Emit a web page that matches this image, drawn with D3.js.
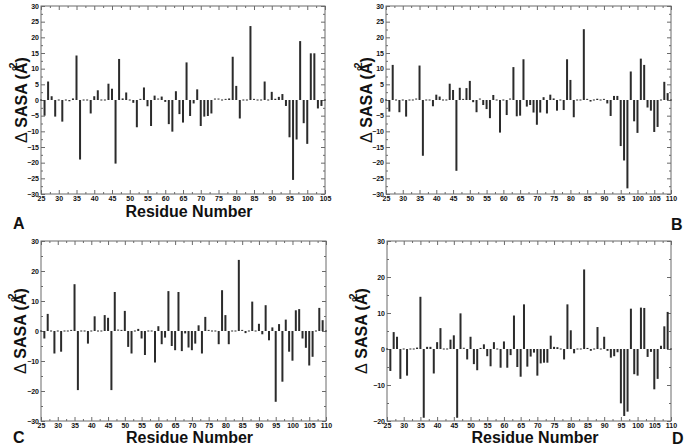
<!DOCTYPE html>
<html><head><meta charset="utf-8">
<script src="https://cdn.jsdelivr.net/npm/d3@7"></script>
<style>body{margin:0;background:#fff} svg{display:block}</style>
</head><body>
<script>
// Residue numbers start at 25; one value per residue.
const residueStart = 25;
const valuesA = [0,-5,5.9,1.2,-5.3,0,-6.9,0,-0.4,0.5,14.2,-19,0,0,-4.3,1.2,3.1,0,0,5.2,3.6,-20.3,13.1,0.5,2.4,-0.3,-0.9,-8.7,0.2,4.0,-2,-8.3,1.4,0.3,1.1,-0.6,-7.7,-10.1,2.8,-4.5,-7.2,12,-5.1,-1.1,3.4,-8.3,-5.3,-5.1,-4.3,0.3,0.3,-0.2,0.2,0.5,13.8,4.5,-5.9,0,0,23.6,0.2,-0.3,0,5.9,0,2.6,0.4,1.0,1.9,-1.9,-11.9,-25.5,-12.6,18.8,-7.4,-14,14.9,14.9,-2.7,-1.9,0];
const valuesB = [0,-3.7,11.2,0,-3.9,0,-5.3,0,0,0.3,11,-17.8,0,0,-2,1.7,1.1,0,0,5.2,3.2,-22.6,3.9,0.2,3.8,6.1,-0.7,-3.9,0.3,-1.6,-2.9,-5.8,1.6,0,-10.4,0,-4.8,0.3,10.5,-5.2,-5,13,-2.1,-1.6,-4,-7.9,-4,0.9,-4.3,1.7,0.5,-3.4,0,-3.2,13,6.4,-5.5,0,0,22.6,0.2,-0.5,0,0.4,0,0.2,-1.1,-5.1,1.3,1.3,-14.7,-19.3,-28.2,9.1,-6.8,-10.5,13.2,11.2,-2.4,-3.4,-10.2,-8.6,0,5.8,2.2,0];
const valuesC = [0,-2.5,5.7,0,-7.5,0,-6.9,0,-0.3,0.2,15.6,-19.7,0,0,-4.2,0,4.9,0,0,5.3,4.4,-19.7,13,0.3,0.2,6.7,-5.3,-7.5,0,0.7,-2.5,-8,0,0,-10.5,1.6,-4.4,-2.2,13.3,-5,-6.4,13,-6.7,-0.8,-5.5,-6.4,-4.2,1.9,-7.5,4.7,0.2,0,0,-4.4,13.6,5.3,-4.4,0,0,23.7,0.2,-0.7,0,9.8,0,2.4,-1.1,8.6,-3.1,1.2,-23.6,2.3,-16.9,3.8,-6.9,-9.9,6.9,7.3,-2.5,-5.6,-11.5,-8.6,0,7.7,3.6,0];
const valuesD = [0,-6.1,4.7,3.4,-8.3,0,-7.4,0,0,0.4,14.5,-19.1,0.6,0.6,-6.8,1.9,5.8,0,0,2.6,3.8,-19.1,9.9,0.2,-2.9,3.4,-4.2,-5.9,0.3,1.3,-2,-4.8,1.9,0,-5.2,2.1,-5.2,-1.7,9.3,-5,-7.7,12.4,-4.9,-2.1,-1,-7.4,-4,-3.8,-3.8,3.7,0.6,0.5,0,-2.9,12.4,5.2,-1.2,0,0,22.1,0.3,-0.5,0,6.1,0,3.4,-0.5,-2.4,-2,-0.9,-15.1,-18.6,-17.4,11.2,-7,-7.4,11.5,11.4,-2.2,-0.8,-11.2,-8.3,0.9,6.3,10.3,0];

const xTicksA = [25,30,35,40,45,50,55,60,65,70,75,80,85,90,95,100,105];
const xTicksBCD = [25,30,35,40,45,50,55,60,65,70,75,80,85,90,95,100,105,110];
const yTicksAB = [-30,-25,-20,-15,-10,-5,0,5,10,15,20,25,30];
const yTicksC = [-30,-20,-10,0,10,20,30];
const yTicksD = [-20,-10,0,10,20,30];
const panelLetters = ["A","B","C","D"];
const xTitle = "Residue Number";

const W = 687, H = 447;
const svg = d3.select("body").append("svg").attr("width", W).attr("height", H)
  .style("font-family", "'Liberation Sans', Arial, sans-serif");

const panels = [
  {values: valuesA, xMax: 105, yDom: [-30,30], xTicks: xTicksA, yTicks: yTicksAB, yMinor: 2.5,
   box: {l:41, r:325, t:6, b:194}, title: 217, letter: [13,229], ylabX: 27},
  {values: valuesB, xMax: 110, yDom: [-30,30], xTicks: xTicksBCD, yTicks: yTicksAB, yMinor: 2.5,
   box: {l:386, r:671, t:6, b:194}, title: null, letter: [671,230], ylabX: 372},
  {values: valuesC, xMax: 110, yDom: [-30,30], xTicks: xTicksBCD, yTicks: yTicksC, yMinor: 5,
   box: {l:41, r:326, t:241, b:421}, title: 443, letter: [13,443], ylabX: 26},
  {values: valuesD, xMax: 110, yDom: [-20,30], xTicks: xTicksBCD, yTicks: yTicksD, yMinor: 5,
   box: {l:387, r:671, t:241, b:421}, title: 443, letter: [672,444], ylabX: 367}
];

const frameColor = "#6a6a6a", barColor = "#2b2b2b";

panels.forEach((p, i) => {
  const b = p.box;
  const x = d3.scaleLinear().domain([residueStart, p.xMax]).range([b.l, b.r]);
  const y = d3.scaleLinear().domain(p.yDom).range([b.b, b.t]);
  const g = svg.append("g");

  const xMinor = d3.range(residueStart, p.xMax + 0.01, 2.5).filter(v => v % 5 !== 0);
  const yMinorV = d3.range(p.yDom[0], p.yDom[1] + 0.01, p.yMinor).filter(v => !p.yTicks.includes(v));

  function addAxis(axisFn, scale, tr, vals, size, labels) {
    const a = axisFn(scale).tickValues(vals).tickSizeInner(-size).tickSizeOuter(0)
      .tickPadding(2).tickFormat(labels ? d3.format("d") : () => "");
    const ag = g.append("g").attr("transform", tr).call(a);
    ag.select(".domain").remove();
    ag.selectAll("line").attr("stroke", frameColor).attr("stroke-width", 1);
    ag.selectAll("text").attr("font-size", 7).attr("font-weight", "bold").attr("fill", "#111");
    return ag;
  }
  // bottom
  const bx = addAxis(d3.axisBottom, x, `translate(0,${b.b})`, p.xTicks, 4, true);
  bx.selectAll("text").attr("dy", "0.72em").attr("y", 2);
  addAxis(d3.axisBottom, x, `translate(0,${b.b})`, xMinor, 2, false);
  // top
  addAxis(d3.axisTop, x, `translate(0,${b.t})`, p.xTicks, 4, false);
  addAxis(d3.axisTop, x, `translate(0,${b.t})`, xMinor, 2, false);
  // left
  addAxis(d3.axisLeft, y, `translate(${b.l},0)`, p.yTicks, 4, true);
  addAxis(d3.axisLeft, y, `translate(${b.l},0)`, yMinorV, 2, false);
  // right
  addAxis(d3.axisRight, y, `translate(${b.r},0)`, p.yTicks, 4, false);
  addAxis(d3.axisRight, y, `translate(${b.r},0)`, yMinorV, 2, false);

  // frame
  g.append("rect").attr("x", b.l).attr("y", b.t).attr("width", b.r - b.l).attr("height", b.b - b.t)
    .attr("fill", "none").attr("stroke", frameColor).attr("stroke-width", 1);

  // bars
  const data = p.values.map((v, k) => ({r: residueStart + k, v}));
  g.append("g").selectAll("rect").data(data).join("rect")
    .attr("x", d => x(d.r) - 1)
    .attr("width", 2)
    .attr("y", d => Math.min(y(d.v), y(0)) - (Math.abs(y(d.v) - y(0)) < 1 ? 0.5 : 0))
    .attr("height", d => Math.max(1, Math.abs(y(d.v) - y(0))))
    .attr("fill", barColor);

  // y label
  const yl = g.append("text")
    .attr("transform", `translate(${p.ylabX},${(b.t + b.b) / 2}) rotate(-90)`)
    .attr("text-anchor", "middle").attr("font-size", 16).attr("font-weight", "bold").attr("fill", "#111");
  yl.append("tspan").attr("font-weight", "normal").text("\u0394");
  yl.append("tspan").text(" SASA (\u00C5");
  yl.append("tspan").attr("font-size", 11).attr("dx", -6).attr("dy", -10).text("2");
  yl.append("tspan").attr("dx", 0).attr("dy", 10).text(")");

  // x title
  if (p.title !== null) {
    g.append("text").attr("x", (b.l + b.r) / 2 + 6).attr("y", p.title)
      .attr("text-anchor", "middle").attr("font-size", 16).attr("font-weight", "bold").attr("fill", "#111")
      .text(xTitle);
  }
  // panel letter
  g.append("text").attr("x", p.letter[0]).attr("y", p.letter[1])
    .attr("font-size", 16).attr("font-weight", "bold").attr("fill", "#111").text(panelLetters[i]);
});
</script>
</body></html>
